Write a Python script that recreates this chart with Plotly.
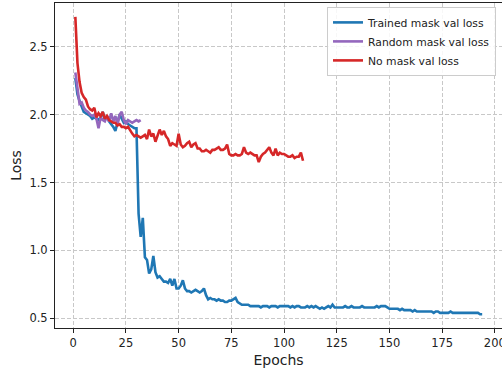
import plotly.graph_objects as go

# ---------------- data ----------------
trained_loss = [
    2.27, 2.15, 2.10, 2.06, 2.02, 2.01, 2.00, 1.99, 1.97, 1.98,
    1.97, 1.96, 1.98, 2.02, 1.96, 1.99, 1.95, 1.93, 1.91, 1.88,
    1.95, 2.00, 1.97, 1.94, 1.95, 1.93, 1.92, 1.91, 1.90, 1.90,
    1.27, 1.10, 1.24, 0.95, 0.93, 0.83, 0.86, 0.96, 0.84, 0.80,
    0.81, 0.79, 0.77, 0.77, 0.76, 0.79, 0.74, 0.79, 0.72, 0.72,
    0.74, 0.78, 0.72, 0.70, 0.70, 0.69, 0.70, 0.71, 0.70, 0.69,
    0.70, 0.72, 0.67, 0.64, 0.65, 0.64, 0.64, 0.63, 0.64, 0.63,
    0.63, 0.62, 0.62, 0.63, 0.63, 0.64, 0.65, 0.62, 0.61, 0.60,
    0.60, 0.60, 0.60, 0.59, 0.59,
    0.59, 0.59, 0.59, 0.58, 0.59, 0.59, 0.59, 0.58, 0.59, 0.59, 0.59, 0.58, 0.59, 0.59, 0.59,
    0.59, 0.59, 0.58, 0.59, 0.58, 0.59, 0.59, 0.58, 0.58, 0.58, 0.59, 0.58, 0.59, 0.58, 0.59,
    0.58, 0.57, 0.58, 0.57, 0.58, 0.59, 0.58, 0.60, 0.58, 0.58, 0.58, 0.58, 0.58, 0.59, 0.58,
    0.58, 0.59, 0.58, 0.58, 0.58, 0.58, 0.59, 0.58, 0.58, 0.58, 0.58, 0.58, 0.58, 0.59, 0.58,
    0.59, 0.59, 0.59, 0.58, 0.57, 0.57, 0.57, 0.57, 0.57, 0.56, 0.57, 0.56, 0.56, 0.56, 0.56,
    0.55, 0.56, 0.55, 0.55, 0.55, 0.55, 0.55, 0.55, 0.55, 0.55, 0.54, 0.55, 0.55, 0.54, 0.54,
    0.54, 0.54, 0.54, 0.55, 0.54, 0.54, 0.54, 0.54, 0.54, 0.54, 0.54, 0.54, 0.54, 0.54, 0.54,
    0.54, 0.54, 0.53, 0.53,
]

random_loss = [
    2.31, 2.18, 2.08, 2.09, 2.05, 2.03, 2.02, 2.00, 1.99, 2.00,
    1.97, 1.90, 1.98, 1.96, 1.95, 1.99, 1.95, 2.01, 1.95, 1.99,
    1.93, 2.00, 2.02, 1.96, 1.93, 1.96, 1.95, 1.94, 1.95, 1.96,
    1.95, 1.96,
]

nomask_loss = [
    2.72, 2.38, 2.24, 2.16, 2.13, 2.11, 2.06, 2.04, 2.03, 2.05,
    1.98, 2.01, 1.99, 2.02, 1.97, 1.99, 1.96, 1.95, 1.94, 1.94,
    1.92, 1.93, 1.91, 1.91, 1.90, 1.91, 1.88, 1.86, 1.84, 1.85,
    1.84, 1.83, 1.84, 1.85, 1.82, 1.89, 1.84, 1.86, 1.80, 1.84,
    1.89, 1.85, 1.88, 1.84, 1.82, 1.77, 1.79, 1.78, 1.77, 1.86,
    1.78, 1.76, 1.77, 1.79, 1.80, 1.76, 1.78, 1.79, 1.75, 1.75,
    1.73, 1.73, 1.74, 1.73, 1.72, 1.74, 1.74, 1.75, 1.76, 1.74,
    1.74, 1.75, 1.78, 1.71, 1.70, 1.70, 1.71, 1.70, 1.70, 1.71,
    1.76, 1.72, 1.71, 1.72, 1.71, 1.70, 1.70, 1.65, 1.69, 1.71,
    1.72, 1.74, 1.76, 1.72, 1.70, 1.75, 1.70, 1.72, 1.71, 1.71,
    1.70, 1.69, 1.69, 1.70, 1.68, 1.69, 1.69, 1.72, 1.66,
]

series_names = ["Trained mask val loss", "Random mask val loss", "No mask val loss"]
x_ticks = [0, 25, 50, 75, 100, 125, 150, 175, 200]
y_ticks = [0.5, 1.0, 1.5, 2.0, 2.5]

# ---------------- figure ----------------
colors = ["#1f77b4", "#9467bd", "#d62728"]
series = [trained_loss, random_loss, nomask_loss]

fig = go.Figure()
for name, vals, col in zip(series_names, series, colors):
    fig.add_trace(go.Scatter(
        x=list(range(1, len(vals) + 1)), y=vals, mode="lines", name=name,
        line=dict(color=col, width=2.6),
    ))

axis_common = dict(
    showline=True, linecolor="#222", linewidth=1,
    ticks="outside", ticklen=4, tickwidth=1, tickcolor="#222",
    showgrid=True, gridcolor="#c8c8c8", gridwidth=1, griddash="4px,2px",
    zeroline=False, tickfont=dict(size=11.5, color="#222"),
    title_font=dict(size=14, color="#222"),
    ticklabeloverflow="allow", automargin=False,
)

fig.update_layout(
    width=502, height=371,
    margin=dict(l=55, r=0, t=3, b=43),
    paper_bgcolor="white", plot_bgcolor="white",
    font=dict(family="DejaVu Sans", color="#222"),
    xaxis=dict(range=[-8.65, 203.4], tickvals=x_ticks, mirror=True,
               title=dict(text="Epochs", standoff=6), **axis_common),
    yaxis=dict(range=[0.4286, 2.822], tickvals=y_ticks, tickformat=".1f",
               title=dict(text="Loss", standoff=4), **axis_common),
    legend=dict(x=0.9866, y=0.988, xanchor="right", yanchor="top",
                bgcolor="rgba(255,255,255,0.85)", bordercolor="#cccccc", borderwidth=1,
                font=dict(size=10.8, color="#222"), itemwidth=30,
                tracegroupgap=0),
    showlegend=True,
)

fig.write_html("out.html")
